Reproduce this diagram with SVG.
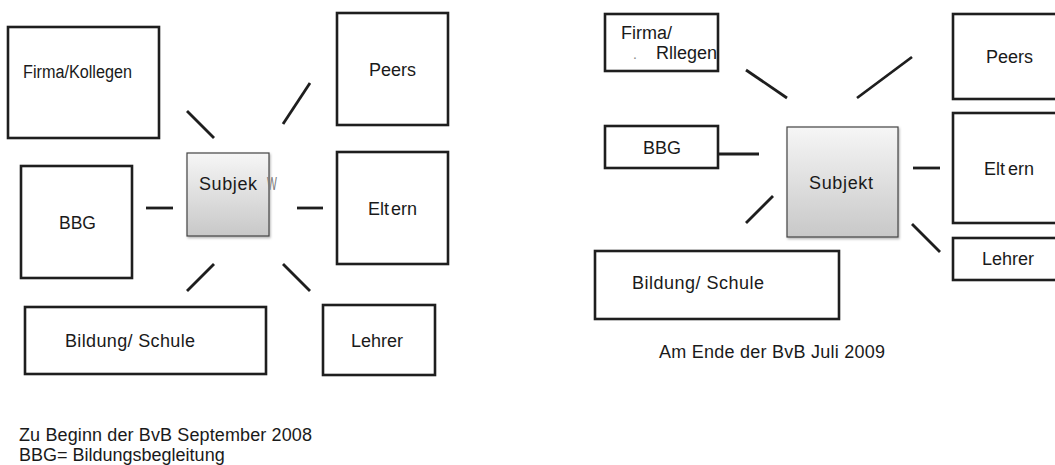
<svg xmlns="http://www.w3.org/2000/svg" width="1055" height="465" viewBox="0 0 1055 465">
<style>
.box{fill:#fff;stroke:#1e1e1e;stroke-width:2.6}
.t{font-family:"Liberation Sans",Arial,sans-serif;font-size:18px;fill:#1a1a1a}
.c{stroke:#1e1e1e;stroke-width:2.8;fill:none}
.subj{fill:url(#g);stroke:#444;stroke-width:1.2;filter:url(#sh)}
</style>
<defs>
<linearGradient id="g" x1="0" y1="0" x2="0" y2="1">
<stop offset="0" stop-color="#f6f6f6"/>
<stop offset="1" stop-color="#c8c8c8"/>
</linearGradient>
<filter id="sh" x="-10%" y="-10%" width="125%" height="125%">
<feDropShadow dx="1" dy="1.5" stdDeviation="1" flood-color="#000" flood-opacity="0.3"/>
</filter>
<clipPath id="cf"><rect x="605" y="14" width="113" height="57"/></clipPath>
</defs>
<rect width="1055" height="465" fill="#fff"/>

<!-- Left panel -->
<g id="l-firma"><rect class="box" x="8" y="27" width="151" height="111"/><text class="t" x="23" y="78" textLength="109" lengthAdjust="spacingAndGlyphs">Firma/Kollegen</text></g>
<g id="l-peers"><rect class="box" x="337" y="13" width="111" height="112"/><text class="t" x="369" y="76">Peers</text></g>
<g id="l-subjekt"><rect class="subj" x="187" y="153" width="82" height="83"/><text class="t" x="199" y="190" textLength="58">Subjek</text><text x="267" y="190" font-family="Liberation Sans,Arial,sans-serif" font-size="19" fill="#7a7a7a" transform="translate(267 0) scale(0.55 1) translate(-267 0)">W</text></g>
<g id="l-bbg"><rect class="box" x="21" y="166" width="111" height="112"/><text class="t" x="59" y="229" textLength="37" lengthAdjust="spacingAndGlyphs">BBG</text></g>
<g id="l-eltern"><rect class="box" x="337" y="152" width="111" height="112"/><text class="t" x="368" y="215">Elt<tspan dx="2">ern</tspan></text></g>
<g id="l-bildung"><rect class="box" x="25" y="307" width="241" height="67"/><text class="t" x="65" y="347" textLength="130">Bildung/ Schule</text></g>
<g id="l-lehrer"><rect class="box" x="323" y="305" width="112" height="70"/><text class="t" x="351" y="347">Lehrer</text></g>
<g id="l-caption"><text class="t" x="19" y="441" textLength="293">Zu Beginn der BvB September 2008</text><text class="t" x="19" y="461">BBG= Bildungsbegleitung</text></g>

<!-- Right panel -->
<g id="r-firma"><rect class="box" x="605" y="14" width="113" height="57"/><g clip-path="url(#cf)"><text class="t" x="621" y="39">Firma/</text><text x="633" y="59" font-family="Liberation Sans,Arial,sans-serif" font-size="14" fill="#888">.</text><text class="t" x="656" y="59">Rllegen</text></g></g>
<g id="r-peers"><rect class="box" x="953" y="14" width="120" height="85"/><text class="t" x="986" y="63">Peers</text></g>
<g id="r-bbg"><rect class="box" x="605" y="126" width="113" height="42"/><text class="t" x="643" y="154">BBG</text></g>
<g id="r-subjekt"><rect class="subj" x="787" y="127" width="111" height="110"/><text class="t" x="809" y="189" textLength="64">Subjekt</text></g>
<g id="r-eltern"><rect class="box" x="953" y="113" width="120" height="110"/><text class="t" x="984" y="175">Elt<tspan dx="3">ern</tspan></text></g>
<g id="r-lehrer"><rect class="box" x="953" y="238" width="120" height="42"/><text class="t" x="982" y="265">Lehrer</text></g>
<g id="r-bildung"><rect class="box" x="595" y="251" width="244" height="68"/><text class="t" x="632" y="289" textLength="132">Bildung/ Schule</text></g>
<g id="r-caption"><text class="t" x="659" y="358" textLength="226">Am Ende der BvB Juli 2009</text></g>

<g id="connectors">
<line class="c" x1="187" y1="111" x2="214" y2="138"/>
<line class="c" x1="310" y1="83" x2="283" y2="124"/>
<line class="c" x1="146" y1="208" x2="173" y2="208"/>
<line class="c" x1="297" y1="208" x2="323" y2="208"/>
<line class="c" x1="214" y1="264" x2="187" y2="291"/>
<line class="c" x1="283" y1="264" x2="310" y2="291"/>
<line class="c" x1="746" y1="70" x2="787" y2="98"/>
<line class="c" x1="912" y1="57" x2="857" y2="98"/>
<line class="c" x1="718" y1="154" x2="759" y2="154"/>
<line class="c" x1="913" y1="168" x2="940" y2="168"/>
<line class="c" x1="773" y1="196" x2="746" y2="223"/>
<line class="c" x1="912" y1="224" x2="940" y2="252"/>
</g>
</svg>
